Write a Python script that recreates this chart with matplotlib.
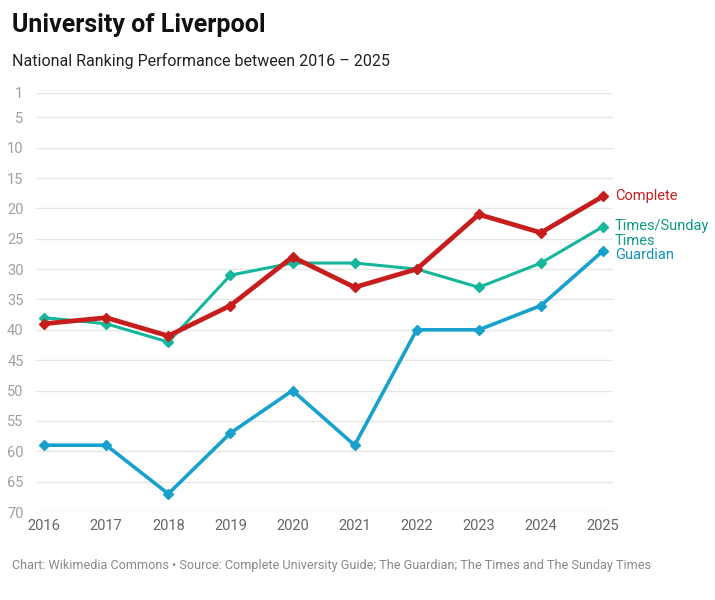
import numpy as np
import matplotlib.pyplot as plt

plt.rcParams['font.family'] = ['Roboto', 'DejaVu Sans']

years = [2016, 2017, 2018, 2019, 2020, 2021, 2022, 2023, 2024, 2025]
complete = [39, 38, 41, 36, 28, 33, 30, 21, 24, 18]
times = [38, 39, 42, 31, 29, 29, 30, 33, 29, 23]
guardian = [59, 59, 67, 57, 50, 59, 40, 40, 36, 27]
yticks = [1, 5, 10, 15, 20, 25, 30, 35, 40, 45, 50, 55, 60, 65, 70]

fig = plt.figure(figsize=(7.15, 6), dpi=100)
# axes box in pixels: x 36..613, y 93..512
ax = fig.add_axes([36/715, 1-512/600, (613-36)/715, (512-93)/600])

ax.plot(years, times, color='#15b69a', lw=2.2, marker='D', ms=5, zorder=3)
ax.plot(years, guardian, color='#18a1cd', lw=2.6, marker='D', ms=5, zorder=3)
ax.plot(years, complete, color='#c71e1d', lw=3.4, marker='D', ms=5, zorder=4)

ax.set_ylim(70, 1)
ax.set_xlim(2015.87, 2025.16)
ax.set_yticks(yticks)
ax.set_xticks(years)
ax.grid(axis='y', color='#e6e6e6', lw=1)
ax.set_axisbelow(True)
for s in ax.spines.values():
    s.set_visible(False)
ax.tick_params(axis='both', length=0, labelsize=10.5, labelcolor='#a0a0a0')
ax.tick_params(axis='y', pad=9)
ax.tick_params(axis='x', pad=5, labelcolor='#666666')

# line end labels
ax.annotate('Complete', (years[-1], complete[-1]), xytext=(8.5, 0), textcoords='offset points',
            va='center', color='#c71e1d', fontsize=10.5)
ax.annotate('Times/Sunday\nTimes', (years[-1], times[-1]), xytext=(8.5, -5), textcoords='offset points',
            va='center', color='#0f9a82', fontsize=10.5, linespacing=1.1)
ax.annotate('Guardian', (years[-1], guardian[-1]), xytext=(8.5, -3), textcoords='offset points',
            va='center', color='#1692bb', fontsize=10.5)

fig.text(12/715, 1-25/600, 'University of Liverpool', fontsize=18, fontweight='bold',
         color='#111111', va='center')
fig.text(12/715, 1-61/600, 'National Ranking Performance between 2016 – 2025', fontsize=11.5,
         color='#222222', va='center')
fig.text(12/715, 1-566/600, 'Chart: Wikimedia Commons • Source: Complete University Guide; The Guardian; The Times and The Sunday Times',
         fontsize=9.1, color='#888888', va='center')

fig.savefig('out.png', dpi=100, facecolor='white')
